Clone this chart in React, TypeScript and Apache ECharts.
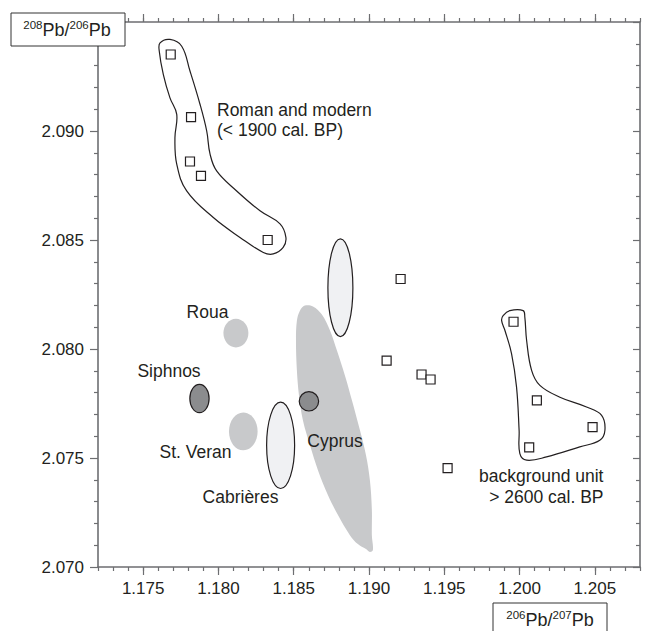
import React, { useEffect, useRef } from 'react';
import * as echarts from 'echarts';

// Axis ranges and tick labels
const X_MIN = 1.172;
const X_MAX = 1.208;
const Y_MIN = 2.07;
const Y_MAX = 2.095;
const xMajorTicks = [1.175, 1.18, 1.185, 1.19, 1.195, 1.2, 1.205];
const yMajorTicks = [2.07, 2.075, 2.08, 2.085, 2.09];

// Samples (206Pb/207Pb, 208Pb/206Pb)
const romanSamples = [
  [1.17683, 2.09351],
  [1.17818, 2.09064],
  [1.17811, 2.0886],
  [1.17884, 2.08794],
  [1.18327, 2.085],
];
const otherSamples = [
  [1.1921, 2.08321],
  [1.19117, 2.07947],
  [1.19349, 2.07883],
  [1.19409, 2.0786],
  [1.19522, 2.07454],
];
const backgroundSamples = [
  [1.1996, 2.08125],
  [1.20115, 2.07764],
  [1.20485, 2.07642],
  [1.20064, 2.07549],
];

// Group outlines
const romanOutline = [
  [1.17612, 2.09404], [1.17678, 2.0942], [1.17756, 2.09389], [1.17811, 2.09275],
  [1.17877, 2.09124], [1.17922, 2.09], [1.17944, 2.08895], [1.17988, 2.08817],
  [1.18121, 2.08725], [1.18276, 2.08634], [1.18409, 2.08574], [1.18448, 2.08512],
  [1.1843, 2.08466], [1.18364, 2.08436], [1.18298, 2.08443], [1.18143, 2.08512],
  [1.17966, 2.08603], [1.17789, 2.08725], [1.17723, 2.08848], [1.17711, 2.08969],
  [1.17723, 2.09076], [1.17678, 2.09152], [1.17634, 2.09259], [1.17607, 2.09366],
];
const backgroundOutline = [
  [1.19891, 2.08153], [1.19936, 2.08176], [1.20024, 2.08176], [1.20035, 2.08146],
  [1.20047, 2.08039], [1.2008, 2.07902], [1.20135, 2.07833], [1.20268, 2.07779],
  [1.20445, 2.07734], [1.20545, 2.07696], [1.20567, 2.07627], [1.20533, 2.07581],
  [1.204, 2.07551], [1.20179, 2.07505], [1.20047, 2.0749], [1.20002, 2.0752],
  [1.19997, 2.07627], [1.1998, 2.07825], [1.19947, 2.07978], [1.19903, 2.08085],
  [1.19881, 2.0813],
];

// Cyprus ore field
const cyprusField = [
  [1.18574, 2.08199], [1.18628, 2.08195], [1.18687, 2.08158], [1.18741, 2.08085],
  [1.18787, 2.07993], [1.1884, 2.07879], [1.18887, 2.07764], [1.1894, 2.07627],
  [1.1898, 2.07513], [1.19006, 2.07398], [1.19019, 2.07261], [1.19019, 2.07146],
  [1.19026, 2.07078], [1.19006, 2.07069], [1.1898, 2.07082], [1.18926, 2.07105],
  [1.18873, 2.07146], [1.18794, 2.07238], [1.18727, 2.0733], [1.18661, 2.07444],
  [1.18608, 2.07558], [1.18561, 2.07673], [1.18535, 2.07787], [1.18521, 2.07902],
  [1.18515, 2.08039], [1.18521, 2.0813], [1.18541, 2.08176],
];

// Ore fields as ellipses: [centre x, centre y, half width, half height]
const rouaField = [1.18116, 2.08073, 0.00083, 0.00066];
const stVeranField = [1.18165, 2.07622, 0.00095, 0.00087];
const cabrieresField = [1.18413, 2.07558, 0.00093, 0.00198];
const upperField = [1.1881, 2.08281, 0.00083, 0.00224];
const siphnosField = [1.17874, 2.07773, 0.00064, 0.00065];
const cyprusSample = [1.18601, 2.0776, 0.000644, 0.000444];

const INK = '#231f20';
const AXIS = '#6d6e71';
const LIGHT = '#c8c9cb';
const DARK = '#8b8c8e';
const PALE = '#f0f1f3';
const FONT = 'Liberation Sans, Arial, Helvetica, sans-serif';

const isMajor = (v: number, list: number[]) => list.some((t) => Math.abs(t - v) < 1e-6);

function polygonSeries(points: number[][], style: any, smooth: number) {
  return {
    type: 'custom',
    coordinateSystem: 'cartesian2d',
    silent: true,
    data: [points[0]],
    renderItem: (_p: any, api: any) => ({
      type: 'polygon',
      shape: { points: points.map((pt) => api.coord(pt)), smooth },
      style,
    }),
  };
}

function ellipseSeries(fields: number[][], style: any) {
  return {
    type: 'custom',
    coordinateSystem: 'cartesian2d',
    silent: true,
    data: fields,
    renderItem: (_p: any, api: any) => {
      const c = api.coord([api.value(0), api.value(1)]);
      const s = api.size([api.value(2), api.value(3)]);
      return {
        type: 'ellipse',
        shape: { cx: c[0], cy: c[1], rx: s[0], ry: s[1] },
        style,
      };
    },
  };
}

const baseX = {
  type: 'value',
  min: X_MIN,
  max: X_MAX,
  interval: 0.001,
  splitLine: { show: false },
};
const baseY = {
  type: 'value',
  min: Y_MIN,
  max: Y_MAX,
  interval: 0.005,
  splitLine: { show: false },
  minorSplitLine: { show: false },
};
const axisLineStyle = { color: AXIS, width: 1.6 };
const tickLineStyle = { color: AXIS, width: 1.2 };

export default function App() {
  const ref = useRef<HTMLDivElement>(null);
  useEffect(() => {
    if (!ref.current) return;
    const chart = echarts.init(ref.current, undefined, { renderer: 'svg' });
    const annot = { fill: INK, fontSize: 17.5, fontFamily: FONT };
    chart.setOption({
      animation: false,
      textStyle: { fontFamily: FONT },
      grid: { left: 98, right: 8, top: 22, bottom: 64, containLabel: false },
      xAxis: [
        {
          ...baseX,
          position: 'bottom',
          axisLine: { show: true, lineStyle: axisLineStyle },
          axisTick: { show: true, length: 4, lineStyle: tickLineStyle },
          axisLabel: {
            show: true,
            customValues: xMajorTicks,
            formatter: (v: number) => (isMajor(v, xMajorTicks) ? v.toFixed(3) : ''),
            fontSize: 17,
            color: INK,
            margin: 13,
            fontFamily: FONT,
          },
        },
        {
          ...baseX,
          position: 'bottom',
          axisLine: { show: false },
          axisTick: { show: true, length: 8, customValues: xMajorTicks, lineStyle: tickLineStyle },
          axisLabel: { show: false },
        },
        {
          ...baseX,
          position: 'top',
          axisLine: { show: true, lineStyle: axisLineStyle },
          axisTick: { show: true, length: 4, lineStyle: tickLineStyle },
          axisLabel: { show: false },
        },
        {
          ...baseX,
          position: 'top',
          axisLine: { show: false },
          axisTick: { show: true, length: 8, customValues: xMajorTicks, lineStyle: tickLineStyle },
          axisLabel: { show: false },
        },
      ],
      yAxis: [
        {
          ...baseY,
          position: 'left',
          axisLine: { show: true, lineStyle: axisLineStyle },
          axisTick: { show: true, length: 8, lineStyle: tickLineStyle },
          minorTick: { show: true, splitNumber: 5, length: 4, lineStyle: tickLineStyle },
          axisLabel: {
            formatter: (v: number) => (isMajor(v, yMajorTicks) ? v.toFixed(3) : ''),
            fontSize: 17,
            color: INK,
            margin: 14,
            fontFamily: FONT,
          },
        },
        {
          ...baseY,
          position: 'right',
          axisLine: { show: true, lineStyle: axisLineStyle },
          axisTick: { show: true, inside: true, length: 7, lineStyle: tickLineStyle },
          minorTick: { show: true, splitNumber: 5, length: 4, lineStyle: tickLineStyle },
          axisLabel: { show: false },
        },
      ],
      series: [
        polygonSeries(cyprusField, { fill: LIGHT, stroke: 'none' }, 0.35),
        ellipseSeries([rouaField, stVeranField], { fill: LIGHT, stroke: 'none' }),
        ellipseSeries([cabrieresField, upperField], { fill: PALE, stroke: INK, lineWidth: 1.2 }),
        ellipseSeries([siphnosField, cyprusSample], { fill: DARK, stroke: INK, lineWidth: 1.2 }),
        polygonSeries(romanOutline, { fill: 'none', stroke: INK, lineWidth: 1.2 }, 0.4),
        polygonSeries(backgroundOutline, { fill: 'none', stroke: INK, lineWidth: 1.2 }, 0.4),
        {
          type: 'scatter',
          silent: true,
          symbol: 'rect',
          symbolSize: 9,
          itemStyle: { color: '#ffffff', borderColor: INK, borderWidth: 1.2, opacity: 1 },
          data: [...romanSamples, ...otherSamples, ...backgroundSamples],
        },
      ],
      graphic: [
        {
          type: 'rect',
          z: 100,
          shape: { x: 11, y: 13, width: 114, height: 33 },
          style: { fill: '#ffffff', stroke: '#333333', lineWidth: 1 },
        },
        {
          type: 'text',
          z: 101,
          x: 67,
          y: 30,
          style: {
            text: '{s|208}{m|Pb/}{s|206}{m|Pb}',
            align: 'center',
            verticalAlign: 'middle',
            fill: INK,
            fontFamily: FONT,
            rich: {
              s: { fontSize: 11.5, lineHeight: 15, verticalAlign: 'top', fill: INK, fontFamily: FONT },
              m: { fontSize: 18, lineHeight: 22, fill: INK, fontFamily: FONT },
            },
          },
        },
        {
          type: 'rect',
          z: 100,
          shape: { x: 493, y: 603, width: 114, height: 36 },
          style: { fill: '#ffffff', stroke: '#333333', lineWidth: 1 },
        },
        {
          type: 'text',
          z: 101,
          x: 550,
          y: 620,
          style: {
            text: '{s|206}{m|Pb/}{s|207}{m|Pb}',
            align: 'center',
            verticalAlign: 'middle',
            fill: INK,
            fontFamily: FONT,
            rich: {
              s: { fontSize: 11.5, lineHeight: 15, verticalAlign: 'top', fill: INK, fontFamily: FONT },
              m: { fontSize: 18, lineHeight: 22, fill: INK, fontFamily: FONT },
            },
          },
        },
        {
          type: 'text', z: 90, x: 217, y: 100,
          style: { ...annot, text: 'Roman and modern\n(< 1900 cal. BP)', align: 'left', verticalAlign: 'top', lineHeight: 20 },
        },
        { type: 'text', z: 90, x: 207.5, y: 311.5, style: { ...annot, text: 'Roua', align: 'center', verticalAlign: 'middle' } },
        { type: 'text', z: 90, x: 169, y: 371, style: { ...annot, text: 'Siphnos', align: 'center', verticalAlign: 'middle' } },
        { type: 'text', z: 90, x: 195.5, y: 452, style: { ...annot, text: 'St. Veran', align: 'center', verticalAlign: 'middle' } },
        { type: 'text', z: 90, x: 240.5, y: 497, style: { ...annot, text: 'Cabrières', align: 'center', verticalAlign: 'middle' } },
        { type: 'text', z: 90, x: 335, y: 440.5, style: { ...annot, text: 'Cyprus', align: 'center', verticalAlign: 'middle' } },
        {
          type: 'text', z: 90, x: 603.5, y: 465,
          style: { ...annot, text: 'background unit\n> 2600 cal. BP', align: 'right', verticalAlign: 'top', lineHeight: 21 },
        },
      ],
    });
    return () => chart.dispose();
  }, []);
  return (
    <div
      ref={ref}
      style={{ position: 'absolute', left: 0, top: 0, width: 648, height: 631, background: '#ffffff' }}
    />
  );
}
